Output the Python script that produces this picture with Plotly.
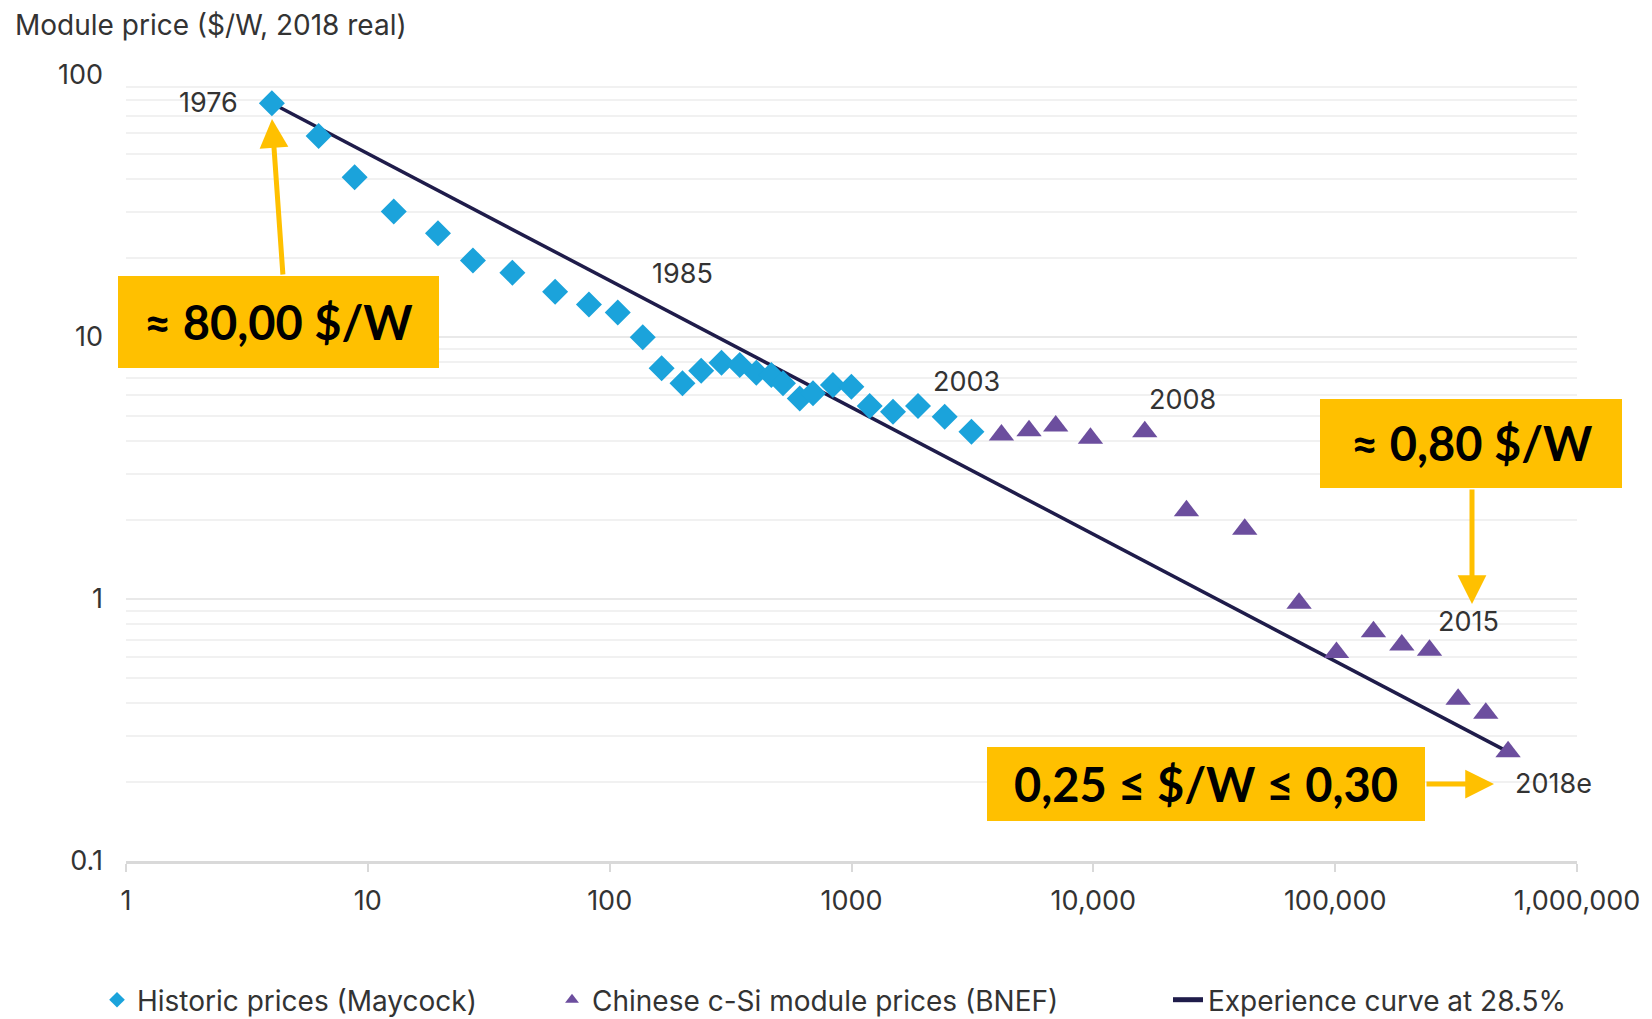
import plotly.graph_objects as go

# ---------------- data ----------------
hist_x = [4.01, 6.26, 8.82, 12.8, 19.5, 27.2, 39.6, 59.5, 82.1, 108, 137, 164, 200, 239,
          290, 345, 404, 466, 521, 611, 693, 838, 999, 1189, 1485, 1884, 2429, 3133]
hist_y = [78.0, 58.5, 40.7, 30.1, 24.9, 19.6, 17.6, 14.9, 13.3, 12.4, 9.97, 7.60, 6.66, 7.44,
          7.98, 7.82, 7.31, 7.16, 6.66, 5.83, 6.10, 6.56, 6.46, 5.45, 5.19, 5.45, 4.96, 4.35]

bnef_x = [4169, 5420, 6990, 9728, 16320, 24270, 42270, 70920, 101260, 144000, 188600,
          245500, 322400, 419600, 518800]
bnef_y = [4.23, 4.39, 4.57, 4.11, 4.35, 2.17, 1.845, 0.963, 0.625, 0.750, 0.667,
          0.637, 0.414, 0.366, 0.261]

curve_x = [4.01, 518800]
curve_y = [78.0, 0.261]

x_tickvals = [1, 10, 100, 1000, 10000, 100000, 1000000]
x_ticktext = ["1", "10", "100", "1000", "10,000", "100,000", "1,000,000"]
y_tickvals = [0.1, 1, 10, 100]
y_ticktext = ["0.1", "1", "10", "100"]

series_names = ["Historic prices (Maycock)", "Chinese c-Si module prices (BNEF)",
                "Experience curve at 28.5%"]
year_labels = ["1976", "1985", "2003", "2008", "2015", "2018e"]
callouts = ["≈ 80,00 $/W", "≈ 0,80 $/W", "0,25 ≤ $/W ≤ 0,30"]
y_title = "Module price ($/W, 2018 real)"

# ---------------- layout helpers ----------------
# the page body has an 8px margin, so the figure is drawn 8px smaller and
# all reference pixel positions are shifted by OFF.
OFF = 8
W, H = 1652 - OFF, 1019 - OFF
L, R, T, B = 118, 75, 67, 158
PW, PH = W - L - R, H - T - B


def fx(p):
    return (p - OFF - L) / PW


def fy(p):
    return (H - B - (p - OFF)) / PH


def cx(p):
    return (p - OFF) / W


def cy(p):
    return 1 - (p - OFF) / H


BLUE = "#1BA3DB"
PURPLE = "#6C4E9E"
NAVY = "#1F1C4A"
GOLD = "#FFC000"
TXT = "#333333"
FONT = "Inter"

fig = go.Figure()
fig.add_trace(go.Scatter(x=curve_x, y=curve_y, mode="lines", name=series_names[2],
                         line=dict(color=NAVY, width=3.5), legend="legend3"))
fig.add_trace(go.Scatter(x=hist_x, y=hist_y, mode="markers", name=series_names[0],
                         marker=dict(symbol="diamond", size=20, color=BLUE), legend="legend"))
fig.add_trace(go.Scatter(x=bnef_x, y=bnef_y, mode="markers", name=series_names[1],
                         marker=dict(symbol="triangle-up", size=22, color=PURPLE), legend="legend2"))

leg_common = dict(xref="container", yref="container", xanchor="left", yanchor="middle",
                  orientation="h", bgcolor="rgba(0,0,0,0)", borderwidth=0,
                  font=dict(family=FONT, size=28, color=TXT), itemsizing="constant")
leg_y = cy(1000)

annotations = []
# year labels (reference pixel positions)
yl_pos = [(240, 103, "right"), (682, 273, "center"), (966, 381, "center"),
          (1182, 399, "center"), (1468, 622, "center"), (1553, 783, "center")]
for txt, (px_, py_, anc) in zip(year_labels, yl_pos):
    annotations.append(dict(text=txt, x=fx(px_), y=fy(py_), xref="paper", yref="paper",
                            xanchor=anc, yanchor="middle", showarrow=False,
                            font=dict(family=FONT, size=27, color=TXT)))

# y title
annotations.append(dict(text=y_title, x=fx(13), y=fy(25), xref="paper", yref="paper",
                        xanchor="left", yanchor="middle", showarrow=False,
                        font=dict(family=FONT, size=28, color=TXT)))

# callout boxes
boxes = [(118, 276, 439, 368), (1320, 399, 1622, 488), (987, 747, 1425, 821)]
shapes = []
for (x0, y0, x1, y1), txt in zip(boxes, callouts):
    shapes.append(dict(type="rect", xref="paper", yref="paper", x0=fx(x0), x1=fx(x1),
                       y0=fy(y0), y1=fy(y1), fillcolor=GOLD, line=dict(width=0), layer="above"))
    annotations.append(dict(text="<b>" + txt + "</b>", x=fx((x0 + x1) / 2), y=fy((y0 + y1) / 2),
                            xref="paper", yref="paper", xanchor="center", yanchor="middle",
                            showarrow=False, font=dict(family="Lato", size=47, color="black")))

# arrows: (tip_x, tip_y, tail_x, tail_y)
arrows = [(272, 119, 283, 276), (1472, 604, 1472, 488), (1494, 784, 1425, 784)]
for tx, ty, sx, sy in arrows:
    annotations.append(dict(text="", x=fx(tx), y=fy(ty), xref="paper", yref="paper",
                            ax=sx - tx, ay=sy - ty, showarrow=True, arrowhead=2,
                            arrowsize=1.15, arrowwidth=5, arrowcolor=GOLD))

fig.update_layout(
    width=W, height=H,
    margin=dict(l=L, r=R, t=T, b=B),
    paper_bgcolor="white", plot_bgcolor="white",
    font=dict(family=FONT, color=TXT),
    showlegend=True,
    legend=dict(leg_common, x=cx(97), y=leg_y),
    legend2=dict(leg_common, x=cx(552), y=leg_y),
    legend3=dict(leg_common, x=cx(1168), y=leg_y),
    annotations=annotations,
    shapes=shapes,
    xaxis=dict(type="log", range=[0, 6], tickvals=x_tickvals, ticktext=x_ticktext,
               showgrid=False, zeroline=False, showline=True, linecolor="#d9d9d9", linewidth=3,
               ticks="outside", ticklen=8, tickwidth=2, tickcolor="#d9d9d9",
               ticklabelstandoff=6,
               tickfont=dict(family=FONT, size=27, color=TXT)),
    yaxis=dict(type="log", range=[-1, 2], tickvals=y_tickvals, ticktext=y_ticktext,
               showgrid=True, gridcolor="#e9e9e9", gridwidth=2, zeroline=False,
               showline=False, ticks="", ticklabelstandoff=22,
               tickfont=dict(family=FONT, size=27, color=TXT),
               minor=dict(dtick="D1", showgrid=True, gridcolor="#f1f1f1", gridwidth=2, ticks="")),
)

fig.write_html("out.html")
